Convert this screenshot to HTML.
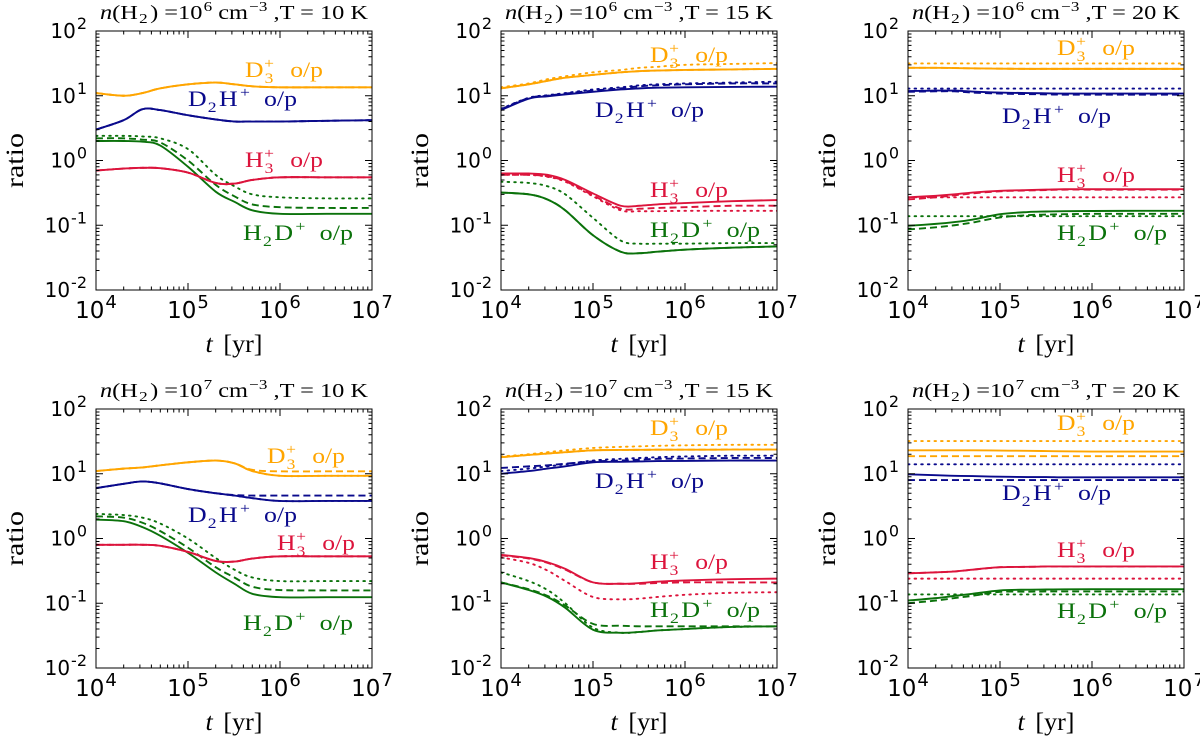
<!DOCTYPE html>
<html><head><meta charset="utf-8">
<style>
html,body{margin:0;padding:0;background:#fff;}
svg{display:block;}
</style></head>
<body>
<svg id="fig" width="1200" height="738" viewBox="0 0 1200 738" xmlns="http://www.w3.org/2000/svg"></svg>
<script>
// ---- data ----
const tYears = [1e4, 2e4, 3.2e4, 5e4, 1e5, 2e5, 3.2e5, 5e5, 1e6, 3.2e6, 1e7];
const xTickExps = [4, 5, 6, 7];
const yTickExps = [-2, -1, 0, 1, 2];
const panelDensityExp = [6, 6, 6, 7, 7, 7];
const panelTemps = [10, 15, 20, 10, 15, 20];

// panel 1: n=1e6, T=10 K
const p1_D3_solid = [11,10,11,13,15,16,15,14,13.5,13.5,13.5];
const p1_D3_dashed = [11,10,11,13,15,16,15,14,13.5,13.5,13.5];
const p1_D3_dotted = [11,10,11,13,15,16,15,14,13.5,13.5,13.5];
const p1_D2H_solid = [3,4.2,6.2,6,5,4.3,4.0,4.0,4.0,4.1,4.2];
const p1_D2H_dashed = [3,4.2,6.2,6,5,4.3,4.0,4.0,4.0,4.1,4.2];
const p1_D2H_dotted = [3,4.2,6.2,6,5,4.3,4.0,4.0,4.0,4.1,4.2];
const p1_H3_solid = [0.7,0.75,0.77,0.76,0.65,0.45,0.44,0.5,0.55,0.55,0.55];
const p1_H3_dashed = [0.7,0.75,0.77,0.76,0.65,0.45,0.44,0.5,0.55,0.55,0.55];
const p1_H3_dotted = [0.7,0.75,0.77,0.76,0.65,0.45,0.44,0.5,0.55,0.55,0.55];
const p1_H2D_solid = [2.0,2.0,1.95,1.7,0.8,0.33,0.23,0.17,0.15,0.15,0.15];
const p1_H2D_dashed = [2.2,2.2,2.1,1.9,1.0,0.42,0.28,0.21,0.19,0.185,0.185];
const p1_H2D_dotted = [2.4,2.4,2.35,2.2,1.5,0.6,0.4,0.3,0.27,0.26,0.26];

// panel 2: n=1e6, T=15 K
const p2_D3_solid = [13,15,17,19,21,23,24,24.5,25,25.5,26];
const p2_D3_dashed = [13,15,17,19,21,23,24,24.5,25,25.5,26];
const p2_D3_dotted = [13.5,15.5,18,20,23,25,27,28,30,31,32];
const p2_D2H_solid = [6,9,9.8,10.5,11.5,12.5,13,13.3,13.5,13.7,13.8];
const p2_D2H_dashed = [6.2,9.2,10,10.8,12,13,14,14.5,15,15.5,15.5];
const p2_D2H_dotted = [6.3,9.3,10.2,11,12.5,13.5,14.5,15,15.5,16,16.5];
const p2_H3_solid = [0.63,0.63,0.6,0.5,0.31,0.2,0.2,0.21,0.22,0.235,0.245];
const p2_H3_dashed = [0.6,0.6,0.57,0.48,0.29,0.18,0.18,0.185,0.19,0.2,0.2];
const p2_H3_dotted = [0.6,0.6,0.56,0.47,0.28,0.17,0.165,0.165,0.167,0.167,0.167];
const p2_H2D_solid = [0.32,0.3,0.25,0.17,0.07,0.039,0.037,0.039,0.042,0.045,0.047];
const p2_H2D_dashed = [0.32,0.3,0.25,0.17,0.07,0.039,0.037,0.039,0.042,0.045,0.047];
const p2_H2D_dotted = [0.47,0.45,0.4,0.3,0.13,0.058,0.052,0.052,0.052,0.053,0.053];

// panel 3: n=1e6, T=20 K
const p3_D3_solid = [27,27,26.8,26.5,26.2,26,26,26,26,26,26];
const p3_D3_dashed = [27,27,26.8,26.5,26.2,26,26,26,26,26,26];
const p3_D3_dotted = [31.5,31.5,31.5,31.5,31.5,31.5,31.5,31.5,31.5,31.5,31.5];
const p3_D2H_solid = [11.8,12,12,11.6,11.2,11,10.9,10.8,10.8,10.8,10.8];
const p3_D2H_dashed = [11.5,11.7,11.7,11.2,10.8,10.6,10.5,10.4,10.4,10.4,10.4];
const p3_D2H_dotted = [12.9,12.9,12.9,12.9,12.9,12.9,12.9,12.9,12.9,12.9,12.9];
const p3_H3_solid = [0.27,0.285,0.3,0.32,0.34,0.35,0.355,0.36,0.36,0.36,0.36];
const p3_H3_dashed = [0.25,0.27,0.29,0.31,0.335,0.345,0.35,0.355,0.355,0.355,0.355];
const p3_H3_dotted = [0.27,0.27,0.27,0.27,0.27,0.27,0.27,0.27,0.27,0.27,0.27];
const p3_H2D_solid = [0.098,0.105,0.112,0.122,0.148,0.16,0.163,0.165,0.166,0.167,0.167];
const p3_H2D_dashed = [0.086,0.093,0.1,0.11,0.132,0.143,0.146,0.148,0.15,0.15,0.15];
const p3_H2D_dotted = [0.138,0.138,0.138,0.138,0.138,0.138,0.138,0.138,0.138,0.138,0.138];

// panel 4: n=1e7, T=10 K
const p4_D3_solid = [11,12,12.5,13.5,15,16,14.5,11,9.3,9.3,9.3];
const p4_D3_dashed = [11,12,12.5,13.5,15,16,14.5,11.5,10.9,10.9,10.9];
const p4_D3_dotted = [11,12,12.5,13.5,15,16,14.5,11,9.3,9.3,9.3];
const p4_D2H_solid = [6,7,7.6,7.1,5.8,5,4.6,4.2,3.8,3.8,3.8];
const p4_D2H_dashed = [6,7,7.6,7.1,5.8,5,4.7,4.6,4.6,4.6,4.6];
const p4_D2H_dotted = [6,7,7.6,7.1,5.8,5,4.6,4.2,3.8,3.8,3.8];
const p4_H3_solid = [0.8,0.8,0.8,0.77,0.62,0.45,0.44,0.49,0.53,0.53,0.53];
const p4_H3_dashed = [0.8,0.8,0.8,0.77,0.62,0.45,0.44,0.49,0.53,0.53,0.53];
const p4_H3_dotted = [0.8,0.8,0.8,0.77,0.62,0.45,0.44,0.49,0.53,0.53,0.53];
const p4_H2D_solid = [1.96,1.85,1.5,1.1,0.6,0.3,0.2,0.14,0.124,0.124,0.124];
const p4_H2D_dashed = [2.2,2.1,1.75,1.3,0.72,0.36,0.25,0.18,0.16,0.158,0.158];
const p4_H2D_dotted = [2.4,2.3,2.1,1.7,1.0,0.5,0.33,0.25,0.22,0.22,0.22];

// panel 5: n=1e7, T=15 K
const p5_D3_solid = [18,19.5,20.5,21.5,23,23.3,23.4,23.5,23.5,23.6,23.6];
const p5_D3_dashed = [18,19.5,20.5,21.5,23,23.3,23.4,23.5,23.5,23.6,23.6];
const p5_D3_dotted = [18.5,20,21.5,23,25,26,26.5,27,27.5,28,28];
const p5_D2H_solid = [10,11,12,13,15,15.3,15.5,15.7,15.8,16,16];
const p5_D2H_dashed = [12.3,13,13.5,14.3,15.5,16,16.5,17,17.2,17.5,17.5];
const p5_D2H_dotted = [11,12,13,14,16,17,17.5,18,18.5,19,19];
const p5_H3_solid = [0.56,0.5,0.43,0.34,0.21,0.2,0.205,0.215,0.225,0.235,0.24];
const p5_H3_dashed = [0.55,0.49,0.42,0.33,0.21,0.2,0.2,0.205,0.21,0.21,0.21];
const p5_H3_dotted = [0.51,0.42,0.32,0.22,0.125,0.115,0.118,0.125,0.135,0.145,0.148];
const p5_H2D_solid = [0.21,0.16,0.125,0.085,0.039,0.035,0.036,0.038,0.04,0.043,0.044];
const p5_H2D_dashed = [0.21,0.165,0.13,0.092,0.048,0.045,0.044,0.044,0.044,0.044,0.044];
const p5_H2D_dotted = [0.3,0.22,0.16,0.1,0.042,0.035,0.036,0.038,0.04,0.043,0.044];

// panel 6: n=1e7, T=20 K
const p6_D3_solid = [23,23,23,23,22.8,22.6,22.4,22.2,22,22,22];
const p6_D3_dashed = [18.7,18.7,18.7,18.7,18.7,18.7,18.7,18.7,18.7,18.7,18.7];
const p6_D3_dotted = [32,32,32,32,32,32,32,32,32,32,32];
const p6_D2H_solid = [9.8,9.5,9.3,9.2,9,8.9,8.9,8.8,8.8,8.8,8.8];
const p6_D2H_dashed = [8,8,8,8,8,8,8,8,8,8,8];
const p6_D2H_dotted = [14,14,14,14,14,14,14,14,14,14,14];
const p6_H3_solid = [0.29,0.3,0.31,0.33,0.36,0.365,0.37,0.37,0.37,0.37,0.37];
const p6_H3_dashed = [0.29,0.3,0.31,0.33,0.36,0.365,0.37,0.37,0.37,0.37,0.37];
const p6_H3_dotted = [0.24,0.24,0.24,0.24,0.24,0.24,0.24,0.24,0.24,0.24,0.24];
const p6_H2D_solid = [0.11,0.12,0.13,0.14,0.158,0.162,0.163,0.164,0.165,0.165,0.165];
const p6_H2D_dashed = [0.1,0.11,0.12,0.13,0.15,0.151,0.152,0.152,0.152,0.152,0.152];
const p6_H2D_dotted = [0.137,0.137,0.137,0.137,0.137,0.137,0.137,0.137,0.137,0.137,0.137];

const panelData = [
 {D3:[p1_D3_solid,p1_D3_dashed,p1_D3_dotted],D2H:[p1_D2H_solid,p1_D2H_dashed,p1_D2H_dotted],H3:[p1_H3_solid,p1_H3_dashed,p1_H3_dotted],H2D:[p1_H2D_solid,p1_H2D_dashed,p1_H2D_dotted]},
 {D3:[p2_D3_solid,p2_D3_dashed,p2_D3_dotted],D2H:[p2_D2H_solid,p2_D2H_dashed,p2_D2H_dotted],H3:[p2_H3_solid,p2_H3_dashed,p2_H3_dotted],H2D:[p2_H2D_solid,p2_H2D_dashed,p2_H2D_dotted]},
 {D3:[p3_D3_solid,p3_D3_dashed,p3_D3_dotted],D2H:[p3_D2H_solid,p3_D2H_dashed,p3_D2H_dotted],H3:[p3_H3_solid,p3_H3_dashed,p3_H3_dotted],H2D:[p3_H2D_solid,p3_H2D_dashed,p3_H2D_dotted]},
 {D3:[p4_D3_solid,p4_D3_dashed,p4_D3_dotted],D2H:[p4_D2H_solid,p4_D2H_dashed,p4_D2H_dotted],H3:[p4_H3_solid,p4_H3_dashed,p4_H3_dotted],H2D:[p4_H2D_solid,p4_H2D_dashed,p4_H2D_dotted]},
 {D3:[p5_D3_solid,p5_D3_dashed,p5_D3_dotted],D2H:[p5_D2H_solid,p5_D2H_dashed,p5_D2H_dotted],H3:[p5_H3_solid,p5_H3_dashed,p5_H3_dotted],H2D:[p5_H2D_solid,p5_H2D_dashed,p5_H2D_dotted]},
 {D3:[p6_D3_solid,p6_D3_dashed,p6_D3_dotted],D2H:[p6_D2H_solid,p6_D2H_dashed,p6_D2H_dotted],H3:[p6_H3_solid,p6_H3_dashed,p6_H3_dotted],H2D:[p6_H2D_solid,p6_H2D_dashed,p6_H2D_dotted]}
];

// ---- layout ----
const NS = "http://www.w3.org/2000/svg";
const svg = document.getElementById('fig');
const colLeft = [96, 501, 908];
const rowTop = [31, 409];
const PW = 276, PH = 259;
const SANS = '"DejaVu Sans", "Liberation Sans", sans-serif';
const SERIF = '"Liberation Serif", "DejaVu Serif", serif';
const colors = {D3:'#FFA500', D2H:'#0a0a8c', H3:'#DC143C', H2D:'#0b720b'};
const dashes = ['', '7,4', '1.6,5'];
const styleNames = ['solid','dashed','dotted'];
const labelPos = [
 {D3:[149,46],D2H:[92,75],H3:[149,136],H2D:[147,209]},
 {D3:[149,31],D2H:[94,86],H3:[149,166],H2D:[149,206]},
 {D3:[149,24],D2H:[94,92],H3:[149,151],H2D:[149,209]},
 {D3:[171,54],D2H:[92,113],H3:[181,141],H2D:[147,221]},
 {D3:[149,26],D2H:[94,79],H3:[149,160],H2D:[149,208]},
 {D3:[149,21],D2H:[94,91],H3:[149,148],H2D:[149,209]}
];
const labelWidth = {D3:78, D2H:109, H3:78, H2D:110};

function el(tag, attrs, parent){
  const e = document.createElementNS(NS, tag);
  for (const k in attrs) e.setAttribute(k, attrs[k]);
  (parent||svg).appendChild(e);
  return e;
}

function smoothPath(pts){
  let d = 'M' + pts[0][0].toFixed(2) + ',' + pts[0][1].toFixed(2);
  for (let i=0;i<pts.length-1;i++){
    const p0 = pts[i-1]||pts[i], p1 = pts[i], p2 = pts[i+1], p3 = pts[i+2]||p2;
    const c1x = p1[0]+(p2[0]-p0[0])/6, c1y = p1[1]+(p2[1]-p0[1])/6;
    const c2x = p2[0]-(p3[0]-p1[0])/6, c2y = p2[1]-(p3[1]-p1[1])/6;
    d += ' C'+c1x.toFixed(2)+','+c1y.toFixed(2)+' '+c2x.toFixed(2)+','+c2y.toFixed(2)+' '+p2[0].toFixed(2)+','+p2[1].toFixed(2);
  }
  return d;
}

function addText(parent, x, y, parts, family, size, anchor){
  const t = el('text', {x:x, y:y, 'font-family':family, 'font-size':size, 'text-anchor':anchor||'start', fill:'#000'}, parent);
  parts.forEach(p=>{
    const s = el('tspan', {}, t);
    if (p.dx) s.setAttribute('dx', p.dx);
    if (p.dy) s.setAttribute('dy', p.dy);
    if (p.size) s.setAttribute('font-size', p.size);
    if (p.style) s.setAttribute('font-style', p.style);
    s.textContent = p.t;
  });
  return t;
}

const speciesLabel = {
  D3: [{t:'D'},{t:'3',dy:6,size:15,dx:1},{t:'+',dy:-15,size:15,dx:-8},{t:'o/p',dy:9,dx:14}],
  D2H:[{t:'D'},{t:'2',dy:6,size:15,dx:1},{t:'H',dy:-6,dx:2},{t:'+',dy:-9,size:15,dx:2},{t:'o/p',dy:9,dx:12}],
  H3: [{t:'H'},{t:'3',dy:6,size:15,dx:1},{t:'+',dy:-15,size:15,dx:-8},{t:'o/p',dy:9,dx:14}],
  H2D:[{t:'H'},{t:'2',dy:6,size:15,dx:1},{t:'D',dy:-6,dx:2},{t:'+',dy:-9,size:15,dx:2},{t:'o/p',dy:9,dx:12}]
};

for (let p=0;p<6;p++){
  const x0 = colLeft[p%3], y0 = rowTop[Math.floor(p/3)];
  const g = el('g', {});
  
  
  const xs = v => x0 + (Math.log10(v) - 4) / 3 * PW;
  const ys = v => y0 + (2 - Math.log10(v)) / 4 * PH;

  const cp = el('clipPath', {id:'clip'+p}, g);
  el('rect', {x:x0, y:y0, width:PW, height:PH}, cp);

  const sg = el('g', {'clip-path':'url(#clip'+p+')'}, g);
  ['H2D','H3','D2H','D3'].forEach(sp=>{
    for (let s=2;s>=0;s--){
      const vals = panelData[p][sp][s];
      const pts = tYears.map((t,i)=>[xs(t), ys(vals[i])]);
      const path = el('path', {d:smoothPath(pts), fill:'none', stroke:colors[sp], 'stroke-width':1.9, 'stroke-linecap':s===2?'round':'butt'}, sg);
      if (dashes[s]) path.setAttribute('stroke-dasharray', dashes[s]);
      
      
    }
  });

  const frame = el('rect', {x:x0, y:y0, width:PW, height:PH, fill:'none', stroke:'#000', 'stroke-width':1}, g);
  
  

  let td = '';
  for (let e=4;e<=7;e++){
    for (let m=1;m<=9;m++){
      if (e===7 && m>1) break;
      const X = xs(m*Math.pow(10,e));
      const L = m===1?7:3.5;
      td += 'M'+X+','+(y0+PH)+'v'+(-L)+'M'+X+','+y0+'v'+L;
    }
  }
  for (let e=-2;e<=2;e++){
    for (let m=1;m<=9;m++){
      if (e===2 && m>1) break;
      const Y = ys(m*Math.pow(10,e));
      const L = m===1?7:3.5;
      td += 'M'+x0+','+Y+'h'+L+'M'+(x0+PW)+','+Y+'h'+(-L);
    }
  }
  const ticks = el('path', {d:td, stroke:'#000', 'stroke-width':1, fill:'none'}, g);
  
  

  xTickExps.forEach(e=>{
    const t = addText(g, xs(Math.pow(10,e)), y0+PH+28, [{t:'10'},{t:String(e),dy:-10,size:18,dx:1}], SANS, 23, 'middle');
    
    
  });
  yTickExps.forEach(e=>{
    const t = addText(g, x0-9, ys(Math.pow(10,e))+7, [{t:'10'},{t:String(e),dy:-9,size:16,dx:1}], SANS, 20, 'end');
    
    
  });

  const yt = el('text', {x:0, y:0, 'font-family':SERIF, 'font-size':25, 'text-anchor':'middle', textLength:55, lengthAdjust:'spacingAndGlyphs', transform:'translate('+(x0-73)+','+(y0+PH/2)+') rotate(-90)'}, g);
  yt.textContent = 'ratio';
  
  
  const xt = addText(g, x0+PW/2, y0+PH+62, [{t:'t',style:'italic'},{t:' [yr]',dx:4}], SERIF, 25, 'middle');
  xt.setAttribute('textLength', 57);
  xt.setAttribute('lengthAdjust', 'spacingAndGlyphs');
  
  

  const tt = addText(g, x0+PW/2, y0-12, [
    {t:'n',style:'italic'},{t:'(H'},{t:'2',dy:4,size:14,dx:1},{t:') =10',dy:-4,dx:2},{t:String(panelDensityExp[p]),dy:-8,size:14,dx:1},
    {t:' cm',dy:8},{t:'−3',dy:-8,size:14,dx:1},{t:' ,T = ' + panelTemps[p] + ' K',dy:8}], SERIF, 20, 'middle');
  tt.setAttribute('textLength', 268);
  tt.setAttribute('lengthAdjust', 'spacingAndGlyphs');
  
  

  ['D3','D2H','H3','H2D'].forEach(sp=>{
    const lp = labelPos[p][sp];
    const t = addText(g, x0+lp[0], y0+lp[1], speciesLabel[sp], SERIF, 22, 'start');
    t.setAttribute('textLength', labelWidth[sp]);
    t.setAttribute('lengthAdjust', 'spacingAndGlyphs');
    t.setAttribute('fill', colors[sp]);
    
    
  });
}
</script>
</body></html>
